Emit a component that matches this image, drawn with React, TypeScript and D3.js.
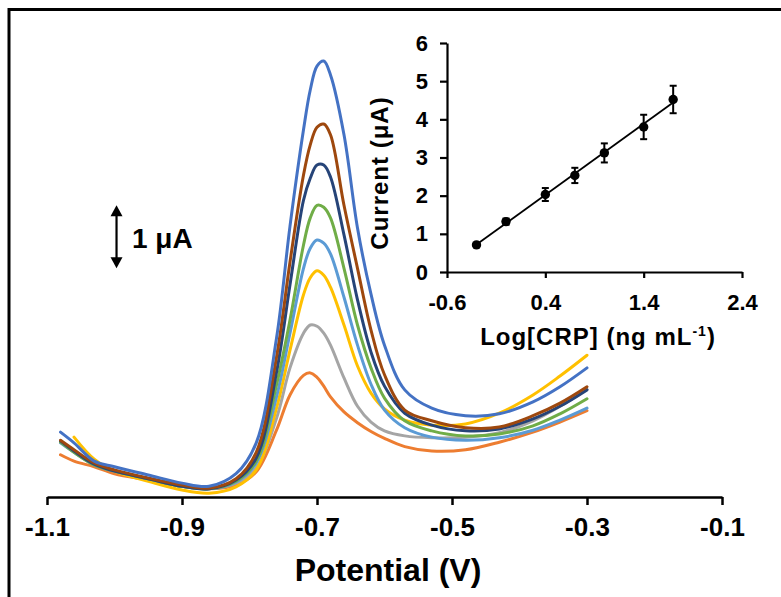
import React, { useEffect, useRef } from 'react';
import * as d3 from 'd3';

// main voltammograms: potential (V) vs current (uA, arbitrary offset)
const potentials = [-1.08, -1.06, -1.03, -1.0, -0.95, -0.9, -0.86, -0.82, -0.79, -0.76, -0.74, -0.72, -0.71, -0.7,
  -0.69, -0.68, -0.66, -0.64, -0.62, -0.6, -0.57, -0.53, -0.48, -0.43, -0.38, -0.34, -0.3];

const currOrange = [0.67, 0.57, 0.48, 0.37, 0.27, 0.17, 0.13, 0.19, 0.4, 1.06, 1.62, 1.93, 1.97, 1.9, 1.76, 1.59, 1.35, 1.18, 1.04, 0.93, 0.8, 0.73, 0.75, 0.87, 1.03, 1.19, 1.37];
const currGray = [0.89, 0.73, 0.52, 0.41, 0.29, 0.17, 0.13, 0.22, 0.46, 1.25, 2.05, 2.6, 2.73, 2.71, 2.6, 2.41, 1.89, 1.44, 1.19, 1.05, 0.97, 0.94, 0.95, 1.02, 1.21, 1.44, 1.71];
const currYellow = [null, 0.95, 0.6, 0.41, 0.25, 0.11, 0.06, 0.16, 0.43, 1.41, 2.33, 3.21, 3.48, 3.59, 3.52, 3.33, 2.73, 2.08, 1.65, 1.4, 1.22, 1.14, 1.16, 1.33, 1.62, 1.92, 2.25];
const currLightBlue = [0.86, 0.71, 0.51, 0.41, 0.29, 0.17, 0.13, 0.24, 0.54, 1.59, 2.6, 3.63, 3.95, 4.08, 4.03, 3.86, 3.17, 2.41, 1.79, 1.38, 1.1, 0.95, 0.9, 0.94, 1.06, 1.22, 1.41];
const currGreen = [0.87, 0.71, 0.51, 0.41, 0.29, 0.17, 0.13, 0.25, 0.57, 1.78, 2.81, 4.0, 4.43, 4.63, 4.6, 4.43, 3.63, 2.73, 2.05, 1.57, 1.21, 1.05, 0.97, 1.0, 1.13, 1.32, 1.56];
const currDarkBlue = [0.89, 0.73, 0.52, 0.41, 0.29, 0.17, 0.13, 0.27, 0.62, 1.98, 3.37, 4.71, 5.06, 5.27, 5.27, 5.08, 4.16, 3.13, 2.3, 1.76, 1.33, 1.14, 1.05, 1.08, 1.24, 1.44, 1.7];
const currBrown = [0.9, 0.75, 0.54, 0.43, 0.3, 0.19, 0.14, 0.29, 0.71, 2.22, 3.73, 5.11, 5.59, 5.87, 5.92, 5.75, 4.63, 3.63, 2.65, 1.94, 1.38, 1.21, 1.1, 1.11, 1.29, 1.49, 1.75];
const currBlue = [1.03, 0.86, 0.57, 0.48, 0.35, 0.22, 0.17, 0.37, 0.86, 2.52, 4.3, 5.83, 6.46, 6.84, 6.92, 6.7, 5.75, 4.27, 3.22, 2.41, 1.7, 1.41, 1.29, 1.32, 1.51, 1.75, 2.05];

const curves = [currOrange, currGray, currYellow, currLightBlue, currGreen, currDarkBlue, currBrown, currBlue];
const curveColors = ['#ED7D31', '#A5A5A5', '#FFC000', '#5B9BD5', '#70AD47', '#264478', '#9E480E', '#4472C4'];

const xTicks = [-1.1, -0.9, -0.7, -0.5, -0.3, -0.1];

// scale bar (1 uA) position
const barPotential = -0.997;
const barFrom = 3.63;

// inset calibration
const logCrp = [-0.3, 0.0, 0.4, 0.7, 1.0, 1.4, 1.7];
const peakCurrent = [0.71, 1.32, 2.03, 2.53, 3.12, 3.8, 4.52];
const peakError = [0.05, 0.08, 0.17, 0.2, 0.25, 0.32, 0.36];
const fitX = [-0.3, 1.7];
const fitY = [0.72, 4.44];
const insetXTicks = [-0.6, 0.4, 1.4, 2.4];
const insetYTicks = [0, 1, 2, 3, 4, 5, 6];

const FONT = "'Liberation Sans', Arial, sans-serif";

export default function App() {
  const ref = useRef<SVGSVGElement>(null);

  useEffect(() => {
    const svg = d3.select(ref.current);
    svg.selectAll('*').remove();

    // frame
    svg.append('path').attr('d', 'M9,597 V9.5 H781').attr('fill', 'none').attr('stroke', '#000').attr('stroke-width', 3);

    const x = d3.scaleLinear().domain([-1.1, -0.1]).range([47, 722]);
    const y = d3.scaleLinear().domain([0, 7]).range([497, 56]);

    const line = d3.line<[number, number | null]>()
      .defined((d) => d[1] != null)
      .x((d) => x(d[0]))
      .y((d) => y(d[1] as number))
      .curve(d3.curveCatmullRom.alpha(0.5));

    svg.append('g')
      .selectAll('path')
      .data(curves)
      .enter()
      .append('path')
      .attr('d', (c) => line(potentials.map((p, i) => [p, c[i]] as [number, number | null])))
      .attr('fill', 'none')
      .attr('stroke', (_, i) => curveColors[i])
      .attr('stroke-width', 3)
      .attr('stroke-linejoin', 'round')
      .attr('stroke-linecap', 'round');

    // x axis
    const gx = svg.append('g').attr('transform', 'translate(0,497)')
      .call(d3.axisBottom(x).tickValues(xTicks).tickSize(8).tickSizeOuter(0).tickPadding(13)
        .tickFormat((d) => (d as number).toFixed(1)));
    gx.select('.domain').attr('stroke-width', 2.5);
    gx.selectAll('.tick line').attr('stroke-width', 2.5);
    gx.selectAll('.tick text').attr('font-family', FONT).attr('font-size', 26).attr('font-weight', 'bold').attr('fill', '#000');

    svg.append('text').attr('x', 388).attr('y', 581).attr('text-anchor', 'middle')
      .attr('font-family', FONT).attr('font-size', 32).attr('font-weight', 'bold').text('Potential (V)');

    // scale bar
    const bx = x(barPotential);
    const yTop = y(barFrom + 1);
    const yBot = y(barFrom);
    svg.append('line').attr('x1', bx).attr('x2', bx).attr('y1', yTop + 6).attr('y2', yBot - 6)
      .attr('stroke', '#000').attr('stroke-width', 2.2);
    svg.append('path').attr('d', `M${bx},${yTop} L${bx - 6},${yTop + 11} L${bx + 6},${yTop + 11} Z`).attr('fill', '#000');
    svg.append('path').attr('d', `M${bx},${yBot} L${bx - 6},${yBot - 11} L${bx + 6},${yBot - 11} Z`).attr('fill', '#000');
    svg.append('text').attr('x', 132).attr('y', 248).attr('font-family', FONT).attr('font-size', 28)
      .attr('font-weight', 'bold').text('1 μA');

    // inset
    const xi = d3.scaleLinear().domain([-0.6, 2.4]).range([447, 742]);
    const yi = d3.scaleLinear().domain([0, 6]).range([272, 43]);

    const gyi = svg.append('g').attr('transform', 'translate(447,0)')
      .call(d3.axisLeft(yi).tickValues(insetYTicks).tickSize(7).tickSizeOuter(0).tickPadding(12)
        .tickFormat((d) => String(d)));
    const gxi = svg.append('g').attr('transform', 'translate(0,272)')
      .call(d3.axisBottom(xi).tickValues(insetXTicks).tickSize(6).tickSizeOuter(0).tickPadding(16)
        .tickFormat((d) => (d as number).toFixed(1)));
    [gyi, gxi].forEach((g) => {
      g.select('.domain').attr('stroke-width', 2.2);
      g.selectAll('.tick line').attr('stroke-width', 2.2);
      g.selectAll('.tick text').attr('font-family', FONT).attr('font-size', 22).attr('font-weight', 'bold').attr('fill', '#000');
    });

    svg.append('line')
      .attr('x1', xi(fitX[0])).attr('y1', yi(fitY[0]))
      .attr('x2', xi(fitX[1])).attr('y2', yi(fitY[1]))
      .attr('stroke', '#000').attr('stroke-width', 1.8);

    const pts = logCrp.map((v, i) => ({ x: v, y: peakCurrent[i], e: peakError[i] }));
    const eb = svg.append('g').attr('stroke', '#000').attr('stroke-width', 2);
    pts.forEach((p) => {
      const cx = xi(p.x);
      eb.append('line').attr('x1', cx).attr('x2', cx).attr('y1', yi(p.y + p.e)).attr('y2', yi(p.y - p.e));
      eb.append('line').attr('x1', cx - 3.5).attr('x2', cx + 3.5).attr('y1', yi(p.y + p.e)).attr('y2', yi(p.y + p.e));
      eb.append('line').attr('x1', cx - 3.5).attr('x2', cx + 3.5).attr('y1', yi(p.y - p.e)).attr('y2', yi(p.y - p.e));
    });
    svg.append('g').selectAll('circle').data(pts).enter().append('circle')
      .attr('cx', (d) => xi(d.x)).attr('cy', (d) => yi(d.y)).attr('r', 4.7).attr('fill', '#000');

    svg.append('text').attr('transform', 'translate(388,173) rotate(-90)').attr('text-anchor', 'middle')
      .attr('font-family', FONT).attr('font-size', 24).attr('font-weight', 'bold').attr('letter-spacing', 1)
      .text('Current (μA)');

    const t = svg.append('text').attr('x', 598).attr('y', 345).attr('text-anchor', 'middle')
      .attr('font-family', FONT).attr('font-size', 24).attr('font-weight', 'bold').attr('letter-spacing', 1);
    t.append('tspan').text('Log[CRP] (ng mL');
    t.append('tspan').attr('font-size', 14).attr('dy', -9).text('-1');
    t.append('tspan').attr('dy', 9).text(')');
  }, []);

  return (
    <svg ref={ref} width={781} height={597}
      style={{ position: 'absolute', left: 0, top: 0, background: '#fff', display: 'block' }} />
  );
}
